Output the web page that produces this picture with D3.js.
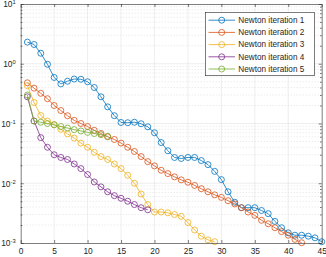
<!DOCTYPE html>
<html><head><meta charset="utf-8">
<script src="https://cdn.jsdelivr.net/npm/d3@7/dist/d3.min.js"></script>
<style>
body{margin:0;background:#fff}
svg{display:block}
text{font-family:"Liberation Sans",Arial,Helvetica,sans-serif;fill:#262626}
</style>
</head><body>
<svg id="chart" width="326" height="257"></svg>
<script>
// ---- data ----
const seriesNames = ["Newton iteration 1","Newton iteration 2","Newton iteration 3","Newton iteration 4","Newton iteration 5"];
const seriesColors = ["#0072BD","#D95319","#EDB120","#7E2F8E","#77AC30"];
const iter1 = [2.3,2.1,1.5,0.98,0.59,0.46,0.51,0.555,0.55,0.50,0.40,0.28,0.19,0.135,0.104,0.103,0.105,0.099,0.088,0.07,0.048,0.035,0.027,0.026,0.027,0.027,0.024,0.0205,0.0158,0.0115,0.0072,0.0048,0.0039,0.0039,0.0039,0.0035,0.0031,0.0023,0.0018,0.00148,0.00135,0.00135,0.0013,0.00122,0.00105];
const iter2 = [0.48,0.39,0.32,0.26,0.20,0.165,0.135,0.113,0.10,0.089,0.077,0.068,0.06,0.054,0.047,0.040,0.034,0.028,0.023,0.0195,0.0165,0.0145,0.0128,0.0114,0.0104,0.0092,0.0081,0.0072,0.0064,0.0058,0.0051,0.0045,0.0039,0.0033,0.0029,0.0024,0.0021,0.0018,0.00155,0.00135,0.00115,0.00101];
const iter3 = [0.43,0.225,0.136,0.11,0.096,0.08,0.067,0.057,0.047,0.040,0.033,0.028,0.025,0.021,0.0176,0.0136,0.010,0.0066,0.0044,0.0033,0.0033,0.0032,0.003,0.0028,0.0022,0.00165,0.0013,0.00113,0.00105];
const iter4 = [0.28,0.11,0.058,0.040,0.030,0.027,0.025,0.021,0.0176,0.014,0.0105,0.0087,0.0072,0.0062,0.0056,0.005,0.0044,0.0039,0.0036];
const iter5 = [0.30,0.11,0.105,0.10,0.095,0.089,0.084,0.079,0.075,0.071,0.068,0.065,0.061];
const xTicks = [0,5,10,15,20,25,30,35,40,45];
const yTickExps = [1,0,-1,-2,-3];
const allSeries = [iter1,iter2,iter3,iter4,iter5];

// ---- layout ----
const W = 326, H = 257;
const m = {left:20.7, right:4.3, top:4, bottom:14};
const svg = d3.select("#chart");
const x = d3.scaleLinear().domain([0,45]).range([m.left, W - m.right]);
const y = d3.scaleLog().domain([1e-3, 1e1]).range([H - m.bottom, m.top]);
const axisColor = "#262626";

// grid: minor (log) dotted
const minorVals = [];
for (let e = -3; e < 1; e++) for (let k = 2; k <= 9; k++) minorVals.push(k * Math.pow(10, e));
const grid = svg.append("g");
grid.selectAll("line.minor").data(minorVals).join("line")
  .attr("x1", x(0)).attr("x2", x(45))
  .attr("y1", d => y(d)).attr("y2", d => y(d))
  .attr("stroke", "#d2d2d2").attr("stroke-width", 0.6).attr("stroke-dasharray", "1,2");
grid.selectAll("line.vx").data(xTicks.slice(1, -1)).join("line")
  .attr("x1", d => x(d)).attr("x2", d => x(d))
  .attr("y1", y(1e-3)).attr("y2", y(1e1))
  .attr("stroke", "#e3e3e3").attr("stroke-width", 0.6);
svg.append("g").selectAll("line").data(yTickExps.slice(1, -1)).join("line")
  .attr("x1", x(0)).attr("x2", x(45))
  .attr("y1", d => y(Math.pow(10, d))).attr("y2", d => y(Math.pow(10, d)))
  .attr("stroke", "#e3e3e3").attr("stroke-width", 0.6);

// series
const line = d3.line().x((d, i) => x(i + 1)).y(d => y(d));
allSeries.forEach((s, si) => {
  const g = svg.append("g");
  g.append("path").datum(s).attr("d", line)
    .attr("fill", "none").attr("stroke", seriesColors[si]).attr("stroke-width", 0.8);
  g.selectAll("circle").data(s).join("circle")
    .attr("cx", (d, i) => x(i + 1)).attr("cy", d => y(d)).attr("r", 3)
    .attr("fill", "none").attr("stroke", seriesColors[si]).attr("stroke-width", 0.8);
});

// axes (box with inward ticks)
const tickLen = 3;
const gBottom = svg.append("g").attr("transform", `translate(0,${y(1e-3)})`)
  .call(d3.axisBottom(x).tickValues(xTicks).tickSizeInner(-tickLen).tickSizeOuter(0).tickPadding(5).tickFormat(d3.format("d")));
const gTop = svg.append("g").attr("transform", `translate(0,${y(1e1)})`)
  .call(d3.axisTop(x).tickValues(xTicks).tickSizeInner(-tickLen).tickSizeOuter(0).tickFormat(""));
const yMajor = yTickExps.map(e => Math.pow(10, e));
const gLeft = svg.append("g").attr("transform", `translate(${x(0)},0)`)
  .call(d3.axisLeft(y).tickValues(yMajor).tickSizeInner(-tickLen).tickSizeOuter(0).tickFormat(""));
const gRight = svg.append("g").attr("transform", `translate(${x(45)},0)`)
  .call(d3.axisRight(y).tickValues(yMajor).tickSizeInner(-tickLen).tickSizeOuter(0).tickFormat(""));
const gLeftMinor = svg.append("g").attr("transform", `translate(${x(0)},0)`)
  .call(d3.axisLeft(y).tickValues(minorVals).tickSizeInner(-1.7).tickSizeOuter(0).tickFormat(""));
const gRightMinor = svg.append("g").attr("transform", `translate(${x(45)},0)`)
  .call(d3.axisRight(y).tickValues(minorVals).tickSizeInner(-1.7).tickSizeOuter(0).tickFormat(""));
[gBottom, gTop, gLeft, gRight, gLeftMinor, gRightMinor].forEach(g => {
  g.selectAll("path.domain").attr("stroke", axisColor).attr("stroke-width", 0.6);
  g.selectAll(".tick line").attr("stroke", axisColor).attr("stroke-width", 0.6);
});
[gLeftMinor, gRightMinor].forEach(g => g.select("path.domain").remove());
gBottom.selectAll(".tick text").attr("font-size", "8.4px").attr("fill", axisColor)
  .attr("font-family", '"Liberation Sans",Arial,sans-serif');

// y labels with superscripts
const yl = svg.append("g").selectAll("text").data(yTickExps).join("text")
  .attr("x", x(0) - 5).attr("y", d => y(Math.pow(10, d)) + 3.3)
  .attr("text-anchor", "end").attr("font-size", "8.4px");
yl.append("tspan").text("10");
yl.append("tspan").attr("dy", -2.9).attr("font-size", "5.8px").text(d => String(d));

// legend
const lg = svg.append("g").attr("transform", "translate(205.5,12.3)");
lg.append("rect").attr("width", 108.8).attr("height", 63.4)
  .attr("fill", "#fff").attr("stroke", axisColor).attr("stroke-width", 0.6);
seriesNames.forEach((n, i) => {
  const cy = 7.9 + i * 12.2;
  lg.append("line").attr("x1", 3).attr("x2", 29.5).attr("y1", cy).attr("y2", cy)
    .attr("stroke", seriesColors[i]).attr("stroke-width", 0.8);
  lg.append("circle").attr("cx", 16.2).attr("cy", cy).attr("r", 3)
    .attr("fill", "none").attr("stroke", seriesColors[i]).attr("stroke-width", 0.8);
  lg.append("text").attr("x", 32.8).attr("y", cy + 2.9).attr("font-size", "8.2px").text(n);
});
</script>
</body></html>
